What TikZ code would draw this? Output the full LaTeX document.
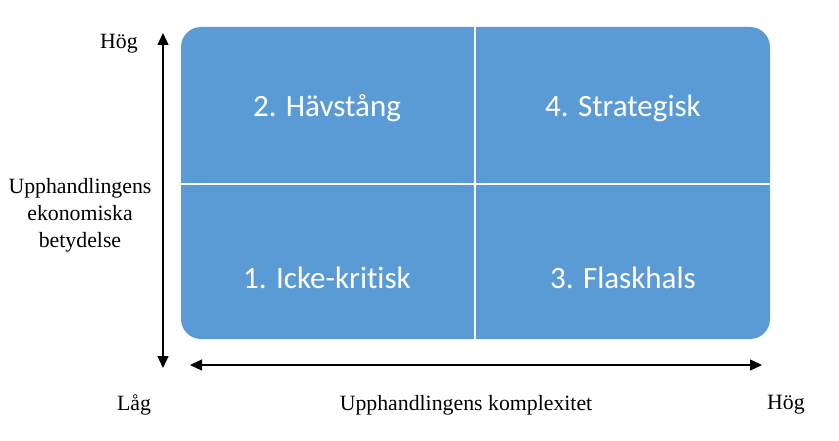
\documentclass[tikz,border=0pt]{standalone}
\usepackage{fontspec}
\setmainfont{Liberation Serif}
\newfontfamily\quadfont[RawFeature=-liga]{Carlito}
\usepackage{xcolor}
\usetikzlibrary{calc,arrows.meta}
\definecolor{quadblue}{HTML}{5B9BD5}

\begin{document}
\begin{tikzpicture}[x=1pt, y=-1pt, thick,
		quad/.style = {font=\quadfont\fontsize{31}{37}\selectfont, text=white},
		lbl/.style = {font=\fontsize{21.8}{27}\selectfont, align=center},
		axis/.style = {line width=1.4pt, {Triangle[length=12pt,width=11pt]}-{Triangle[length=12pt,width=11pt]}}]
		\useasboundingbox (0,0) rectangle (839,441);
		
		\begin{scope}
			\path[shape=coordinate]
			(181,27) coordinate(NW)
			(770,339) coordinate(SE)
			(475,27) coordinate(N)
			(475,339) coordinate(S)
			(181,184) coordinate(W)
			(770,184) coordinate(E);
			
			\fill[quadblue, rounded corners=20pt] (NW) rectangle (SE);
			\draw[white, line width=2.5pt] (N) -- (S);
			\draw[white, line width=2.5pt] (W) -- (E);
		\end{scope}
		
		\node[quad] (lever) at (327,108) {2. Hävstång};
		\node[quad] (strat) at (623,108) {4. Strategisk};
		\node[quad] (noncrit) at (327,278) {1. Icke-kritisk};
		\node[quad] (bottle) at (623,278) {3. Flaskhals};
		
		\begin{scope}
			\path[shape=coordinate]
			(163,33) coordinate(Vtop)
			(163,368) coordinate(Vbot)
			(190,365) coordinate(Hleft)
			(762,365) coordinate(Hright);
			
			\draw[axis] (Vbot) -- (Vtop);
			\draw[axis] (Hleft) -- (Hright);
		\end{scope}
		
		\node[lbl] (yhigh) at (119,44) {Hög};
		\node[lbl] (ylow) at (134,405) {Låg};
		\node[lbl] (xhigh) at (786,405) {Hög};
		\node[lbl] (xtitle) at (466,405) {Upphandlingens komplexitet};
		\node[lbl] (ytitle) at (80,215) {Upphandlingens\\ekonomiska\\betydelse};
	\end{tikzpicture}
\end{document}
